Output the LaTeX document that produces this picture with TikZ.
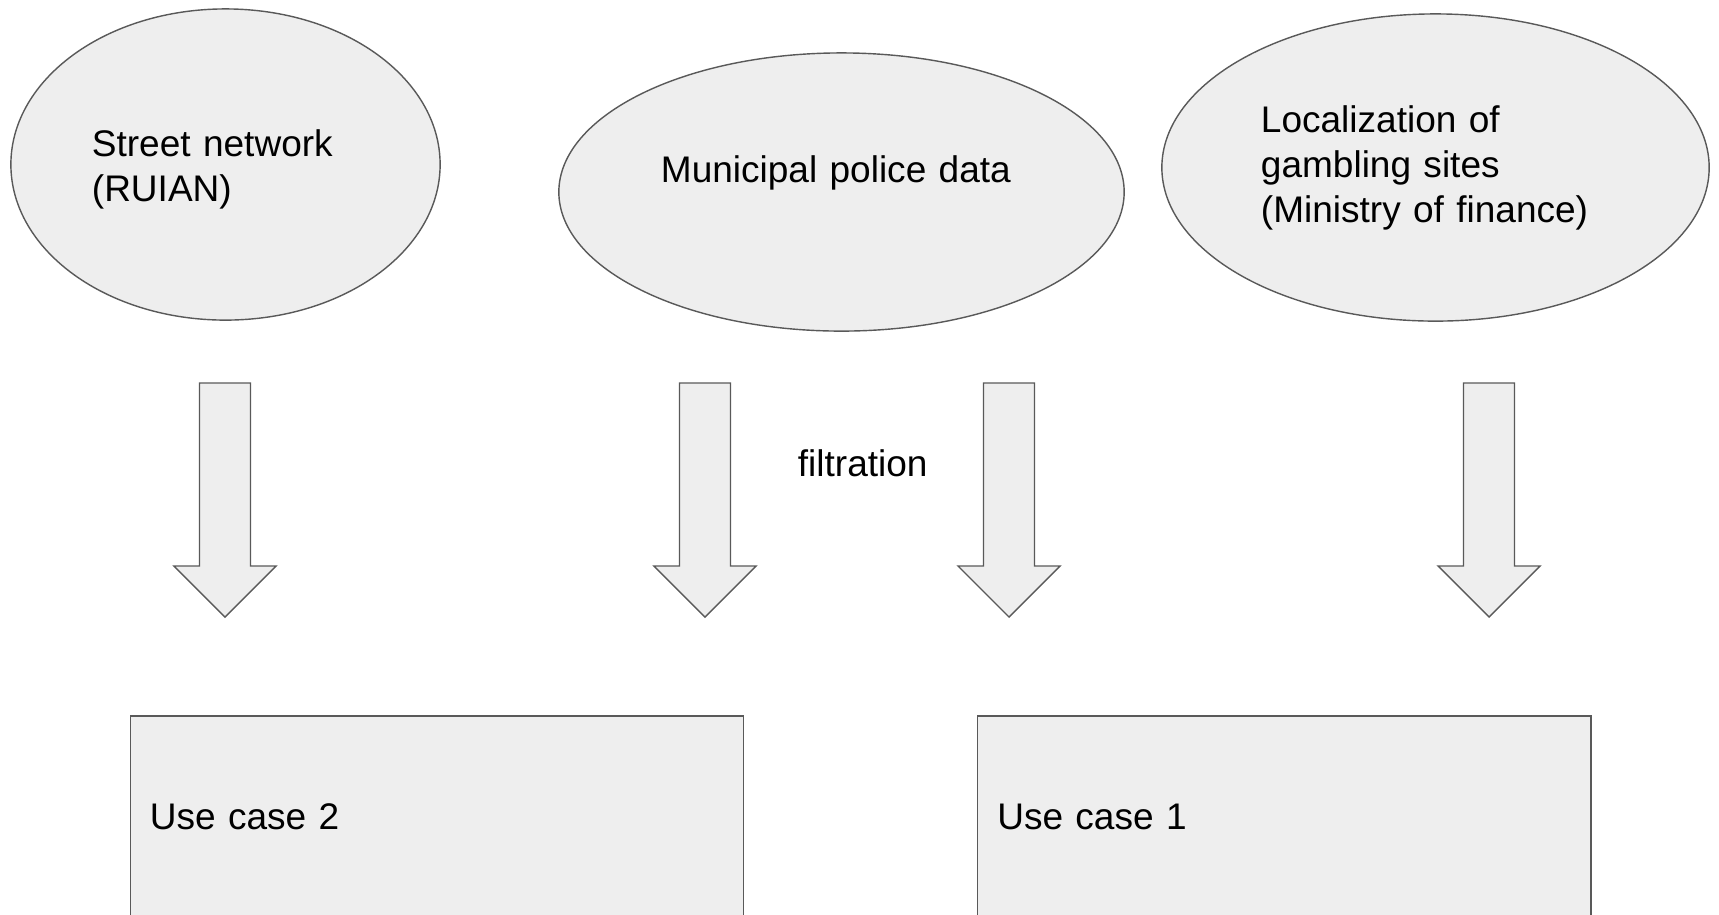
\documentclass[tikz,border=0pt]{standalone}
\usepackage{fontspec}
\setmainfont{Liberation Sans}
\usetikzlibrary{shapes.geometric}
\definecolor{shapefill}{HTML}{EEEEEE}
\definecolor{shapeline}{HTML}{595959}
\tikzset{
  src/.style={ellipse, draw=shapeline, fill=shapefill, line width=0.4pt, inner sep=0pt, align=left},
  srctext/.style={align=left, inner sep=0pt},
  usecase/.style={rectangle, draw=shapeline, fill=shapefill, line width=0.4pt, inner xsep=0.195cm,
    text width=5.738cm, minimum width=6.128cm, minimum height=2.014cm, align=left},
  blk/.style={draw=shapeline, fill=shapefill, line width=0.4pt, line join=miter},
}
\begin{document}
\begin{tikzpicture}[x=0.01cm, y=-0.01cm, font=\fontsize{10.53}{12.8}\selectfont]
\useasboundingbox (0,0) rectangle (1719,914);
% data sources
\node [src, minimum width=4.29cm, minimum height=3.11cm,
  label={[srctext, text width=2.67cm, yshift=-0.05cm]center:Street network\\(RUIAN)}] (street) at (225.5,164.5) {};
\node [src, minimum width=5.65cm, minimum height=2.78cm,
  label={[srctext, text width=3.61cm, yshift=0.19cm]center:Municipal police data}] (police) at (841.5,192) {};
\node [src, minimum width=5.47cm, minimum height=3.07cm,
  label={[srctext, text width=3.49cm]center:Localization of\\gambling sites\\(Ministry of finance)}] (gambling) at (1435.5,167.5) {};
% block arrows
\foreach \x in {225,705,1009,1489}
  \draw [blk] (\x-25.5,383) -- (\x+25.5,383) -- (\x+25.5,566) -- (\x+51,566) -- (\x,617)
    -- (\x-51,566) -- (\x-25.5,566) -- cycle;
\node (filtration) at (862.75,463.7) {filtration};
% use cases
\node [usecase] (case2) at (436.9,816.7) {Use case 2};
\node [usecase] (case1) at (1284.35,816.7) {Use case 1};
\end{tikzpicture}
\end{document}
